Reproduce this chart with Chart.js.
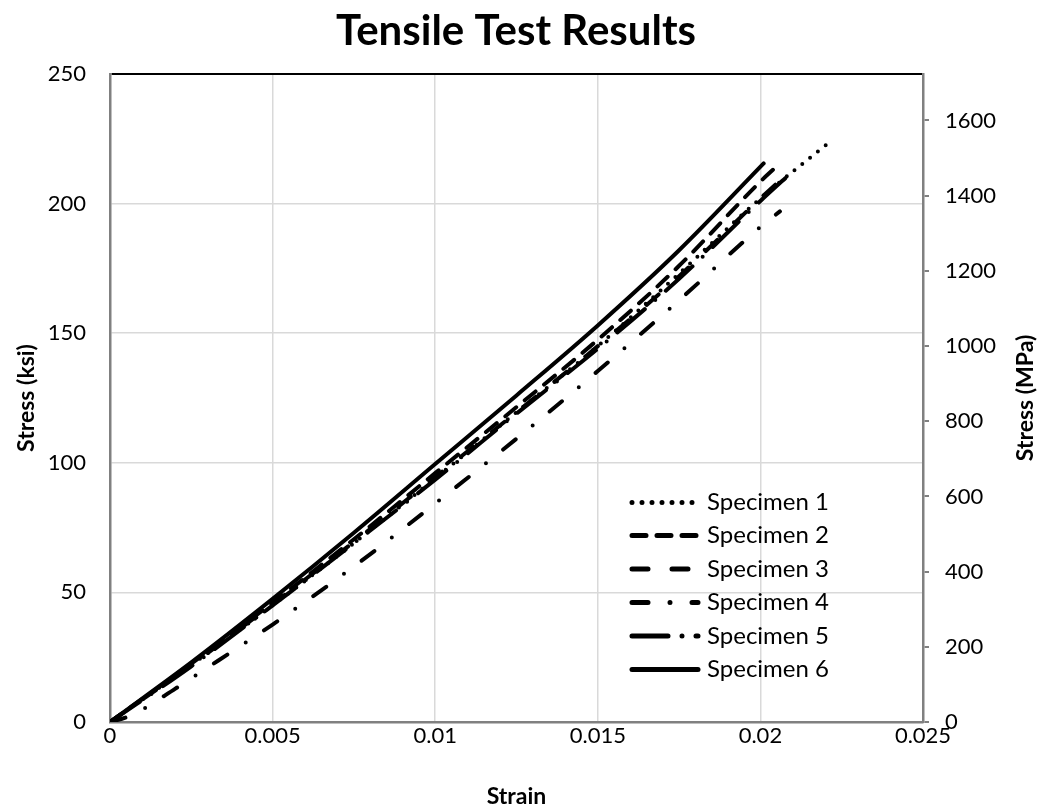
<!DOCTYPE html>
<html>
<head>
<meta charset="utf-8">
<script src="https://cdn.jsdelivr.net/npm/chart.js@4.4.0/dist/chart.umd.min.js"></script>
<style>
  html, body { margin: 0; padding: 0; background: #fff; }
  #wrap { width: 1041px; height: 808px; }
</style>
</head>
<body>
<div id="wrap"><canvas id="chart" width="1041" height="808"></canvas></div>
<script>
// values (strain, stress in ksi)
const names = ['Specimen 1', 'Specimen 2', 'Specimen 3', 'Specimen 4', 'Specimen 5', 'Specimen 6']

const strain1 = [0, 0.0025, 0.005, 0.0075, 0.01, 0.0125, 0.015, 0.0175, 0.02, 0.0221]
const stress1 = [0, 22, 45, 69, 94, 119.5, 145, 173, 202, 223.5]

const strain2 = [0, 0.0025, 0.005, 0.0075, 0.01, 0.0125, 0.015, 0.0175, 0.02, 0.0206]
const stress2 = [0, 22.5, 46, 70.5, 96, 121.5, 147.5, 176, 208.5, 215.5]

const strain3 = [0, 0.0025, 0.005, 0.0075, 0.01, 0.0125, 0.015, 0.0175, 0.02, 0.0207]
const stress3 = [0, 22, 45.5, 69.5, 94.5, 119.5, 145, 172, 202, 210]

const strain4 = [0, 0.0005, 0.001, 0.002, 0.003, 0.004, 0.005, 0.0075, 0.01, 0.0125, 0.015, 0.0175, 0.02, 0.0206]
const stress4 = [0, 1.8, 4.8, 12.8, 21, 29.2, 37.6, 60, 84.3, 109.3, 135.4, 162.7, 191, 197]

const strain5 = [0, 0.0025, 0.005, 0.0075, 0.01, 0.0125, 0.015, 0.0175, 0.02, 0.021]
const stress5 = [0, 21.5, 45, 69, 93.5, 119, 144, 171, 201, 212.5]

const strain6 = [0, 0.0025, 0.005, 0.0075, 0.01, 0.0125, 0.015, 0.0175, 0.0201]
const stress6 = [0, 23, 47.5, 73, 99.5, 126, 153, 182, 215.5]

const xTicks = ['0', '0.005', '0.01', '0.015', '0.02', '0.025']
const yTicks = ['0', '50', '100', '150', '200', '250']
const mpaTicks = ['0', '200', '400', '600', '800', '1000', '1200', '1400', '1600']

const KSI_TO_MPA = 6.894757

const strains = [strain1, strain2, strain3, strain4, strain5, strain6]
const stresses = [stress1, stress2, stress3, stress4, stress5, stress6]
const dashes = [
  [0, 10],
  [14, 11],
  [16, 24],
  [16, 22, 0, 22],
  [36, 14, 0, 14],
  []
]

const FONT = 'Lato, "Open Sans", sans-serif'
const GRID = '#d9d9d9'
const AXIS = '#808080'

let datasets = []
for (let i = 0; i < names.length; i++) {
  datasets.push({
    label: names[i],
    data: strains[i].map((x, j) => ({ x: x, y: stresses[i][j] })),
    borderColor: '#000',
    backgroundColor: '#000',
    borderWidth: 4,
    borderDash: dashes[i],
    borderCapStyle: 'round',
    borderJoinStyle: 'round',
    pointRadius: 0,
    cubicInterpolationMode: 'monotone',
    yAxisID: 'y'
  })
}

// title, right axis title and legend drawn by hand
const extras = {
  id: 'extras',
  afterDatasetsDraw(chart) {
    const ctx = chart.ctx
    ctx.save()
    const rowY = [502.5, 535.5, 569, 602.5, 636, 669.5]
    for (let i = 0; i < names.length; i++) {
      const y = rowY[i]
      ctx.beginPath()
      ctx.strokeStyle = '#000'
      ctx.lineWidth = 5
      ctx.lineCap = 'round'
      ctx.setLineDash(dashes[i])
      ctx.moveTo(632, y)
      ctx.lineTo(698, y)
      ctx.stroke()
      ctx.setLineDash([])
      ctx.fillStyle = '#000'
      ctx.font = '24px ' + FONT
      ctx.textAlign = 'left'
      ctx.textBaseline = 'middle'
      ctx.fillText(names[i], 707, y)
    }
    ctx.restore()
  },
  afterDraw(chart) {
    const ctx = chart.ctx
    ctx.save()
    ctx.fillStyle = '#000'
    ctx.font = 'bold 42px ' + FONT
    ctx.textAlign = 'center'
    ctx.textBaseline = 'middle'
    ctx.fillText('Tensile Test Results', 516, 31)

    ctx.translate(1026, 398)
    ctx.rotate(-Math.PI / 2)
    ctx.font = 'bold 23px ' + FONT
    ctx.fillText('Stress (MPa)', 0, 0)
    ctx.restore()
  }
}

new Chart(document.getElementById('chart'), {
  type: 'line',
  data: { datasets: datasets },
  plugins: [extras],
  options: {
    responsive: false,
    animation: false,
    layout: { padding: { top: 74, left: 0, right: 0, bottom: 0 } },
    plugins: {
      legend: { display: false },
      title: { display: false },
      tooltip: { enabled: false }
    },
    scales: {
      x: {
        type: 'linear',
        min: 0,
        max: 0.025,
        ticks: {
          stepSize: 0.005,
          color: '#000',
          font: { family: FONT, size: 22 },
          padding: 1,
          maxRotation: 0,
          callback: (v, i) => xTicks[i]
        },
        grid: {
          color: ctx => (ctx.index === xTicks.length - 1 ? AXIS : GRID),
          lineWidth: ctx => (ctx.index === xTicks.length - 1 ? 2 : 1.5),
          drawTicks: false
        },
        border: { color: AXIS, width: 2.5 },
        title: {
          display: true,
          text: 'Strain',
          color: '#000',
          font: { family: FONT, size: 23, weight: 'bold', lineHeight: 1 },
          padding: { bottom: 0, top: 0 }
        },
        afterFit: s => { s.height = 86 }
      },
      y: {
        position: 'left',
        min: 0,
        max: 250,
        ticks: {
          stepSize: 50,
          color: '#000',
          font: { family: FONT, size: 22 },
          padding: 24,
          callback: (v, i) => yTicks[i]
        },
        grid: {
          color: ctx => (ctx.index === yTicks.length - 1 ? '#000' : GRID),
          lineWidth: ctx => (ctx.index === yTicks.length - 1 ? 2 : 1.5),
          drawTicks: false
        },
        border: { color: AXIS, width: 2.5 },
        title: {
          display: true,
          text: 'Stress (ksi)',
          color: '#000',
          font: { family: FONT, size: 23, weight: 'bold', lineHeight: 1 },
          padding: { top: 15, bottom: 0 }
        },
        afterFit: s => { s.width = 110 }
      },
      y2: {
        position: 'right',
        min: 0,
        max: 250 * KSI_TO_MPA,
        afterBuildTicks: s => {
          s.ticks = mpaTicks.map(t => ({ value: Number(t) }))
        },
        ticks: {
          color: '#000',
          font: { family: FONT, size: 22 },
          padding: 16,
          callback: (v, i) => mpaTicks[i]
        },
        grid: {
          drawOnChartArea: false,
          drawTicks: true,
          tickLength: 6,
          tickColor: AXIS,
          lineWidth: 2
        },
        border: { color: AXIS, width: 2.5 },
        title: { display: false },
        afterFit: s => { s.width = 118 }
      }
    }
  }
})
</script>
</body>
</html>
